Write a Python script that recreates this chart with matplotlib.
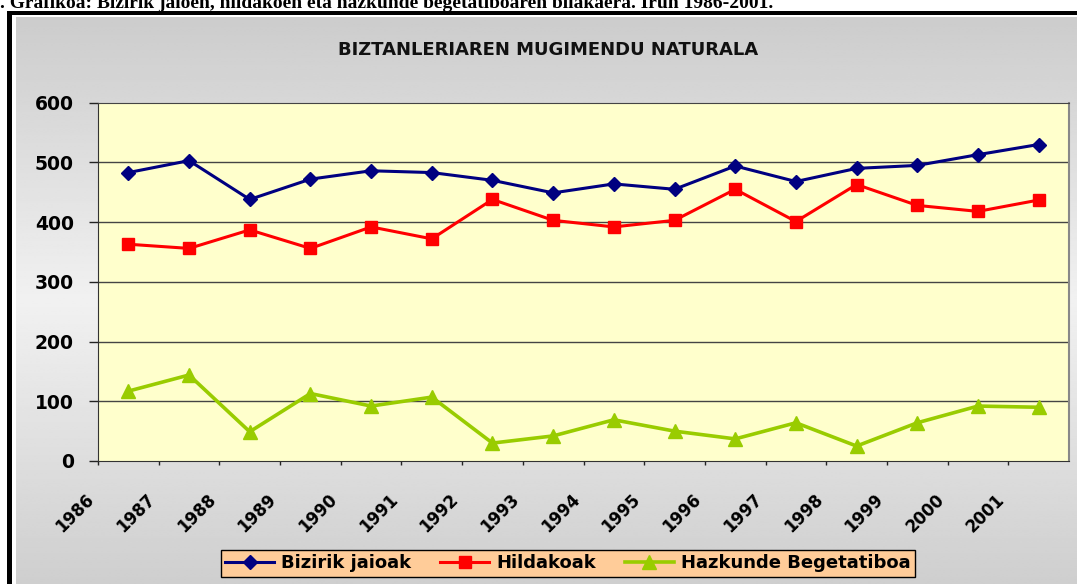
import matplotlib
matplotlib.use("Agg")
import matplotlib.pyplot as plt
import numpy as np
from matplotlib.patches import Rectangle

# data
years = ["1986", "1987", "1988", "1989", "1990", "1991", "1992", "1993",
         "1994", "1995", "1996", "1997", "1998", "1999", "2000", "2001"]
jaioak = [483, 503, 438, 472, 486, 483, 470, 449, 464, 455, 494, 468, 490, 495, 513, 530]
hildakoak = [363, 356, 387, 356, 392, 372, 438, 403, 392, 403, 455, 401, 463, 428, 418, 437]
hazkundea = [117, 144, 49, 113, 92, 107, 30, 42, 69, 50, 37, 64, 25, 64, 92, 90]
y_ticks = [0, 100, 200, 300, 400, 500, 600]

W, H = 1077, 584
plt.rcParams['font.family'] = ['DejaVu Sans']

fig = plt.figure(figsize=(W / 100, H / 100), dpi=100)
fig.patch.set_facecolor('white')

# --- background: black frame + grey gradient chart area ---
bg = fig.add_axes([0, 0, 1, 1], zorder=0)
bg.axis('off')
bg.add_patch(Rectangle((7, 11), W + 20, H + 20, facecolor='black', edgecolor='none', zorder=1))
bg.add_patch(Rectangle((12, 15), W + 20, H + 20, facecolor='white', edgecolor='none', zorder=2))
rows = np.linspace(0, 1, 300)
shade = np.interp(rows, [0, 0.5, 1], [0.80, 0.945, 0.81])
grad = np.repeat(shade[:, None], 2, axis=1)
bg.imshow(grad, cmap='gray', vmin=0, vmax=1, extent=(16, W + 5, H, 17),
          aspect='auto', interpolation='bilinear', zorder=3)
bg.set_xlim(0, W)
bg.set_ylim(H, 0)

# header caption (cut at the top in the original)
fig.text(0, 1 - 7.5 / H,
         ". Grafikoa: Bizirik jaioen, hildakoen eta hazkunde begetatiboaren bilakaera. Irun 1986-2001.",
         family='Liberation Serif', fontweight='bold', fontsize=14, va='baseline', ha='left')

# chart title
fig.text(548 / W, 1 - 50 / H, "BIZTANLERIAREN MUGIMENDU NATURALA",
         fontweight='bold', fontsize=13, ha='center', va='center', color='#111111')

# --- plot area ---
left, right, top, bottom = 98, 1069, 102.7, 461
ax = fig.add_axes([left / W, 1 - bottom / H, (right - left) / W, (bottom - top) / H], zorder=1)
ax.set_facecolor('#FFFFCC')

x = np.arange(len(years)) + 0.5
ax.plot(x, jaioak, color='#000080', lw=2.2, marker='D', ms=7, label='Bizirik jaioak', zorder=3)
ax.plot(x, hildakoak, color='#FF0000', lw=2.2, marker='s', ms=9, label='Hildakoak', zorder=3)
ax.plot(x, hazkundea, color='#99CC00', lw=2.6, marker='^', ms=10, label='Hazkunde Begetatiboa', zorder=3)

ax.set_xlim(0, len(years))
ax.set_ylim(0, 600)
ax.set_yticks(y_ticks)
ax.set_yticklabels([str(v) for v in y_ticks], fontweight='bold', fontsize=13.5)
ax.set_xticks(np.arange(len(years)))
ax.set_xticklabels(years, rotation=45, ha='right', va='top', fontweight='bold', fontsize=12)
ax.tick_params(axis='y', direction='out', length=6.5, width=1, pad=11, colors='#222222')
ax.tick_params(axis='x', direction='out', length=3, width=1, pad=18, colors='#222222')
for t in ax.get_xticklabels() + ax.get_yticklabels():
    t.set_color('black')

for yv in y_ticks[1:-1]:
    ax.axhline(yv, color='#444444', lw=1, zorder=1)
ax.spines['left'].set_color('#333333')
ax.spines['bottom'].set_color('#333333')
ax.spines['top'].set_color('#444444')
ax.spines['right'].set_color('#888888')
ax.spines['right'].set_linewidth(1.5)

leg = fig.legend(loc='center', bbox_to_anchor=(568 / W, 1 - 563.5 / H), ncol=3,
                 frameon=True, facecolor='#FFCC99', edgecolor='black', fancybox=False,
                 framealpha=1, prop={'weight': 'bold', 'size': 13},
                 handlelength=2.7, columnspacing=1.6, handletextpad=0.4,
                 borderpad=0.25, borderaxespad=0)
leg.get_frame().set_linewidth(1)

fig.savefig('out.png', dpi=100)
